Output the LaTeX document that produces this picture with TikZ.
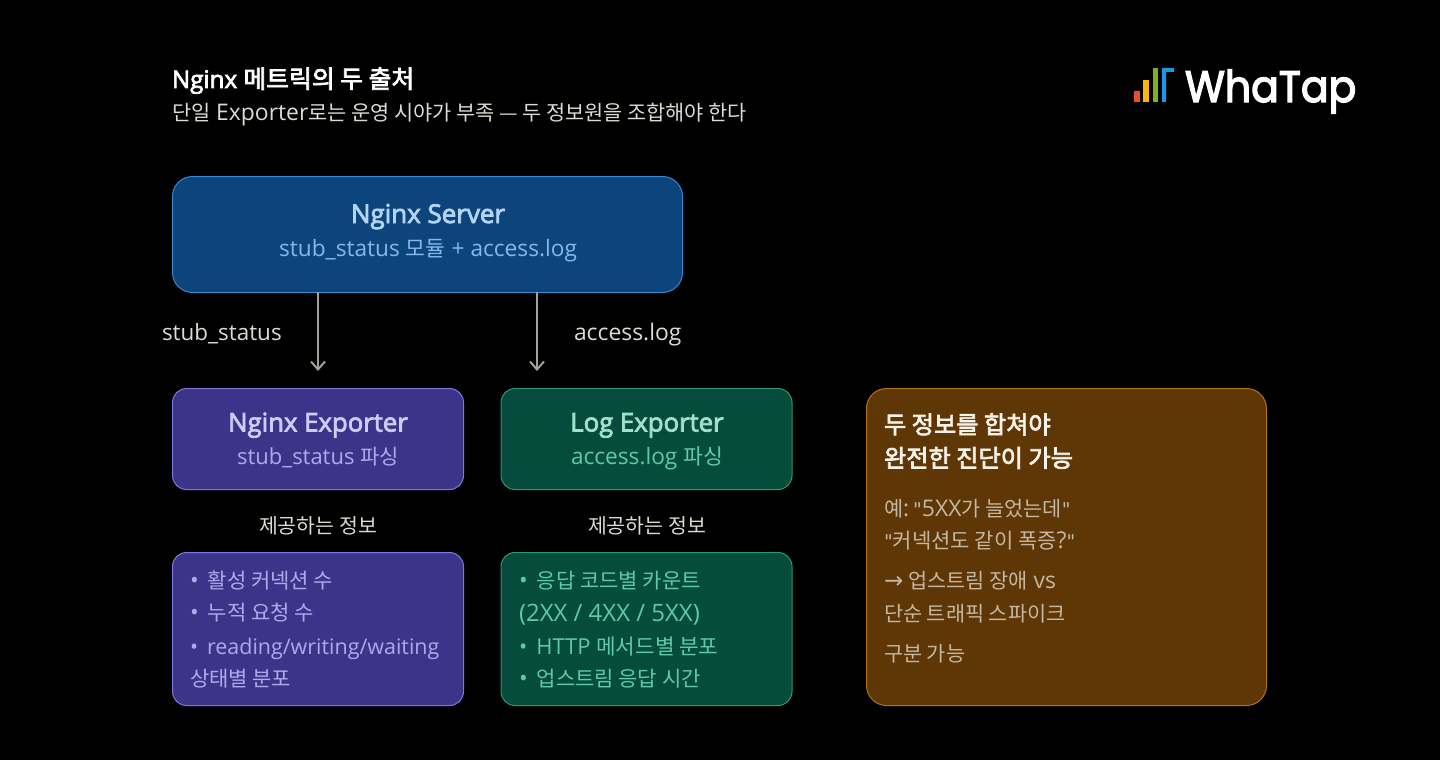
\documentclass[tikz,border=0pt]{standalone}
\usepackage{fontspec}
\setmainfont{Open Sans}[Scale=1.1]
\newfontfamily\semifont{Open Sans}[Scale=1.1,FakeBold=3]
\newfontfamily\krfont{Noto Sans CJK KR}
\newfontfamily\krmed{Noto Sans CJK KR}[FakeBold=3]
\newfontfamily\logofont{Poppins}[FakeStretch=0.93,FakeBold=3]
\newfontfamily\symfont{DejaVu Sans}
\newcommand{\kr}[1]{{\krfont #1}}
\newcommand{\km}[1]{{\krmed #1}}
\newcommand{\fs}[1]{\fontsize{#1}{#1}\selectfont}
\newcommand{\dq}{{\symfont\fs{19}\char34\relax}}
\definecolor{srvfill}{HTML}{0C447C}\definecolor{srvline}{HTML}{3F86CC}\definecolor{srvtitle}{HTML}{B5D4F4}\definecolor{srvsub}{HTML}{85B7EB}
\definecolor{purfill}{HTML}{3C3489}\definecolor{purline}{HTML}{7F77DD}\definecolor{purtitle}{HTML}{CECBF6}\definecolor{pursub}{HTML}{AFA9EC}
\definecolor{grnfill}{HTML}{064C3D}\definecolor{grnline}{HTML}{2F9474}\definecolor{grntitle}{HTML}{9FE1CB}\definecolor{grnsub}{HTML}{5DCAA5}
\definecolor{ambfill}{HTML}{5F3606}\definecolor{ambline}{HTML}{B0741A}\definecolor{ambtitle}{HTML}{F8F3E8}\definecolor{ambsub}{HTML}{C4B8A2}
\definecolor{lbl}{HTML}{DDDBD2}\definecolor{arr}{HTML}{A3A199}
\usetikzlibrary{arrows.meta}
\tikzset{
 panel/.style={draw=#1,line width=1pt},
 txt/.style={inner sep=0pt,outer sep=0pt,anchor=base west},
 ctxt/.style={inner sep=0pt,outer sep=0pt,anchor=base},
 flow/.style={draw=arr,line width=2.4pt,-{Straight Barb[length=8pt,width=14pt,line width=2pt]}},
}
\begin{document}
\begin{tikzpicture}[x=1pt,y=-1pt]
\useasboundingbox[fill=black] (0,0) rectangle (1440,760);
% title
\node[txt,white] (t1) at (172,88) {\fs{22}\semifont Nginx {\fs{24.8}\km{메트릭의 두 출처}}};
\node[txt,lbl] (t2) at (172,120) {\fs{20.8}\kr{단일} Exporter\kr{로는 운영 시야가 부족 — 두 정보원을 조합해야 한다}};
% logo
\fill[fill={rgb,255:red,232;green,80;blue,40}] (1134,91) rectangle (1140,102);
\fill[fill={rgb,255:red,250;green,184;blue,10}] (1143,80) rectangle (1149,102);
\fill[fill={rgb,255:red,126;green,178;blue,20}] (1153,68) rectangle (1158,102);
\fill[fill={rgb,255:red,28;green,152;blue,226}] (1162,102) -- (1162,68) -- (1174,68) -- (1174,72) -- (1166,72) -- (1166,102) -- cycle;
\node[txt,white] (logo) at (1185,102) {\logofont\fs{44}WhaTap};
% boxes
\node[panel=srvline,fill=srvfill,rounded corners=20pt,minimum width=510pt,minimum height=116pt,inner sep=0pt,anchor=north west] (server) at (172,176) {};
\node[panel=purline,fill=purfill,rounded corners=14pt,minimum width=291pt,minimum height=101pt,inner sep=0pt,anchor=north west] (nexp) at (172,388) {};
\node[panel=grnline,fill=grnfill,rounded corners=14pt,minimum width=291pt,minimum height=101pt,inner sep=0pt,anchor=north west] (lexp) at (500.5,388) {};
\node[panel=purline,fill=purfill,rounded corners=14pt,minimum width=291pt,minimum height=153pt,inner sep=0pt,anchor=north west] (nlist) at (172,552) {};
\node[panel=grnline,fill=grnfill,rounded corners=14pt,minimum width=291pt,minimum height=153pt,inner sep=0pt,anchor=north west] (llist) at (500.5,552) {};
\node[panel=ambline,fill=ambfill,rounded corners=20pt,minimum width=400pt,minimum height=317pt,inner sep=0pt,anchor=north west] (note) at (866,388) {};
% connector ends
\coordinate (a1s) at (318,292);\coordinate (a1e) at (318,371);
\coordinate (a2s) at (537,292);\coordinate (a2e) at (537,371);
\draw[flow] (a1s) -- (a1e);
\draw[flow] (a2s) -- (a2e);
\node[txt,lbl] (l1) at (162,340) {\fs{20.4}stub\_status};
\node[txt,lbl] (l2) at (574,340) {\fs{20.8}access.log};
% box texts
\node[ctxt,srvtitle] (s1) at (428,223) {\fs{23.6}\semifont Nginx Server};
\node[ctxt,srvsub] (s2) at (428,256) {\fs{20.6}stub\_status \fs{21.6}\kr{모듈} \fs{20.6}+ access.log};
\node[ctxt,purtitle] (n1) at (318,431.5) {\fs{23.4}\semifont Nginx Exporter};
\node[ctxt,pursub] (n2) at (318,464) {\fs{20}stub\_status \fs{21}\kr{파싱}};
\node[ctxt,grntitle] (g1) at (647,431.5) {\fs{23.4}\semifont Log Exporter};
\node[ctxt,grnsub] (g2) at (647,464) {\fs{20.6}access.log \fs{21.6}\kr{파싱}};
\node[ctxt,lbl] (i1) at (318,533) {\fs{20.5}\kr{제공하는 정보}};
\node[ctxt,lbl] (i2) at (647,533) {\fs{20.5}\kr{제공하는 정보}};
% lists
\node[txt,pursub] (p1) at (190,588) {\fs{21}•\hspace{9pt}\kr{활성 커넥션 수}};
\node[txt,pursub] (p2) at (190,620.5) {\fs{21}•\hspace{9pt}\kr{누적 요청 수}};
\node[txt,pursub] (p3) at (190,654) {\fs{19.5}•\hspace{9pt}reading/writing/waiting};
\node[txt,pursub] (p4) at (190,686.5) {\fs{21}\kr{상태별 분포}};
\node[txt,grnsub] (q1) at (519,588) {\fs{21}•\hspace{9pt}\kr{응답 코드별 카운트}};
\node[txt,grnsub] (q2) at (519,621.5) {\fs{21.8}(2XX / 4XX / 5XX)};
\node[txt,grnsub] (q3) at (519,654) {\fs{20}•\hspace{9pt}HTTP \fs{21.3}\kr{메서드별 분포}};
\node[txt,grnsub] (q4) at (519,686.5) {\fs{21}•\hspace{9pt}\kr{업스트림 응답 시간}};
% note
\node[txt,ambtitle] (a1) at (884,433.5) {\fs{24.2}\km{두 정보를 합쳐야}};
\node[txt,ambtitle] (a2) at (884,467) {\fs{24.2}\km{완전한 진단이 가능}};
\node[txt,ambsub] (a3) at (884,516) {\fs{20.8}\kr{예}:\hspace{4pt}\dq 5XX\kr{가 늘었는데}\dq};
\node[txt,ambsub] (a4) at (884,548) {\fs{21}\dq\kr{커넥션도 같이 폭증}?\dq};
\node[txt,ambsub] (a5) at (884,588) {{\symfont\fs{23}→}\hspace{5pt}\fs{20.8}\kr{업스트림 장애} vs};
\node[txt,ambsub] (a6) at (884,621) {\fs{20.8}\kr{단순 트래픽 스파이크}};
\node[txt,ambsub] (a7) at (884,661) {\fs{20.8}\kr{구분 가능}};
\end{tikzpicture}
\end{document}
